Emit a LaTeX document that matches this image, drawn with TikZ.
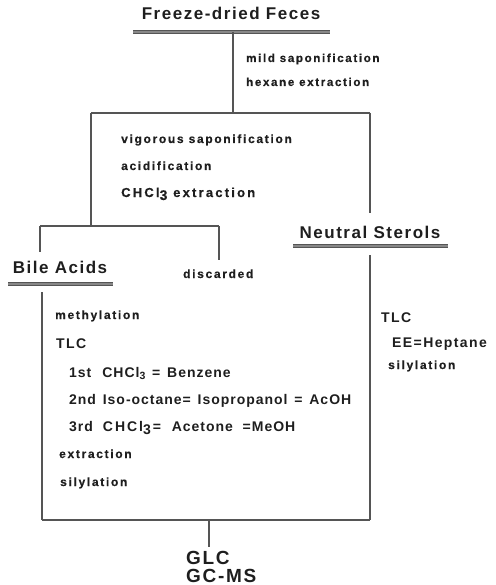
\documentclass[tikz,border=0pt]{standalone}
\usepackage{fontspec}
\setmainfont{Liberation Sans}
\newfontfamily\smallf[LetterSpace=14,FakeBold=0.5]{Liberation Sans Bold}
\newfontfamily\midf[LetterSpace=10,WordSpace=1.8]{Liberation Sans Bold}
\newfontfamily\midtight[LetterSpace=7,WordSpace=1.4]{Liberation Sans Bold}
\newfontfamily\bigf[LetterSpace=9]{Liberation Sans Bold}
\newcommand{\subt}[1]{\raisebox{-2.5pt}{\fontsize{10.5}{10}\selectfont #1}}
\newcommand{\bigsub}[1]{\raisebox{-3pt}{\fontsize{14}{14}\selectfont #1}}
\definecolor{ink}{HTML}{1E1E1E}
\definecolor{rule}{HTML}{555555}
\begin{document}
\begin{tikzpicture}[x=1pt,y=-1pt,
  lbl/.style={anchor=base west,inner sep=0pt,text=ink,font=\smallf\fontsize{12}{14}\selectfont},
  mid/.style={anchor=base west,inner sep=0pt,text=ink,font=\midf\fontsize{14}{16}\selectfont},
  midt/.style={anchor=base west,inner sep=0pt,text=ink,font=\midtight\fontsize{14}{16}\selectfont},
  head/.style={anchor=base,inner sep=0pt,text=ink,font=\bigf\fontsize{17}{19}\selectfont},
  final/.style={anchor=base west,inner sep=0pt,text=ink,font=\bigf\fontsize{19}{21}\selectfont},
  conn/.style={draw=rule,line width=1.3pt},
  uline/.style={draw=rule,line width=1.1pt,double=rule!70,double distance=1.1pt}]
\useasboundingbox (0,0) rectangle (495,585);
% heads
\node[head] (feces) at (231,20) {Freeze-dried Feces};
\node[head] (bile) at (60,273) {Bile Acids};
\node[head] (neutral) at (370,238) {Neutral Sterols};
\node[final] (glc) at (186,564) {GLC};
\node[final] (gcms) at (186,582) {GC-MS};
% underline coordinates
\coordinate (fL) at (133,32); \coordinate (fR) at (330,32); \coordinate (fM) at (233,32);
\coordinate (bL) at (8,284); \coordinate (bR) at (113,284);
\coordinate (nL) at (293,246); \coordinate (nR) at (448,246);
\draw[uline] (fL) -- (fR);
\draw[uline] (bL) -- (bR);
\draw[uline] (nL) -- (nR);
% junctions
\coordinate (j1) at (233,113);
\coordinate (j1L) at (91,113);
\coordinate (j1R) at (370,113);
\coordinate (nsTop) at (370,213);
\coordinate (j2) at (91,226);
\coordinate (j2L) at (40,226);
\coordinate (j2R) at (219,226);
\coordinate (baTop) at (40,252);
\coordinate (discTop) at (219,260);
\coordinate (nsDown) at (370,255);
\coordinate (nsBot) at (370,520);
\coordinate (baDown) at (42,292);
\coordinate (baBot) at (42,520);
\coordinate (jB) at (209,520);
\coordinate (glcTop) at (209,547);
\draw[conn] (fM) -- (j1);
\draw[conn] (j1L) -- (j1R);
\draw[conn] (j1R) -- (nsTop);
\draw[conn] (j1L) -- (j2);
\draw[conn] (j2L) -- (j2R);
\draw[conn] (j2L) -- (baTop);
\draw[conn] (j2R) -- (discTop);
\draw[conn] (nsDown) -- (nsBot);
\draw[conn] (baDown) -- (baBot);
\draw[conn] (baBot) -- (nsBot);
\draw[conn] (jB) -- (glcTop);
% step labels
\node[lbl,font=\smallf\fontsize{11.6}{14}\selectfont] (t1) at (246,62) {mild saponification};
\node[lbl,font=\smallf\fontsize{11.6}{14}\selectfont] (t2) at (246,86) {hexane extraction};
\node[lbl] (t3) at (121,143) {vigorous saponification};
\node[lbl] (t4) at (121,170) {acidification};
\node[lbl,font=\smallf\fontsize{13}{14}\selectfont\addfontfeature{LetterSpace=17}] (t5) at (121,197) {CHCl\bigsub{3} extraction};
\node[lbl] (disc) at (183,278) {discarded};
\node[lbl] (l1) at (55,319) {methylation};
\node[mid] (l2) at (56,348) {TLC};
\node[midt] (l3) at (69,377) {1st\hspace{11pt}CHCl\subt{3} = Benzene};
\node[midt] (l4) at (69,404) {2nd Iso-octane= Isopropanol = AcOH};
\node[midt] (l5) at (69,431) {3rd\hspace{10pt}{\addfontfeature{LetterSpace=14}CHCl\bigsub{3}}\hspace{2pt}= \hspace{4pt}Acetone \hspace{3pt}=MeOH};
\node[lbl] (l6) at (59,458) {extraction};
\node[lbl] (l7) at (60,486) {silylation};
\node[mid] (r1) at (381,322) {TLC};
\node[mid] (r2) at (392,347) {EE=Heptane};
\node[lbl] (r3) at (388,369) {silylation};
\end{tikzpicture}
\end{document}
